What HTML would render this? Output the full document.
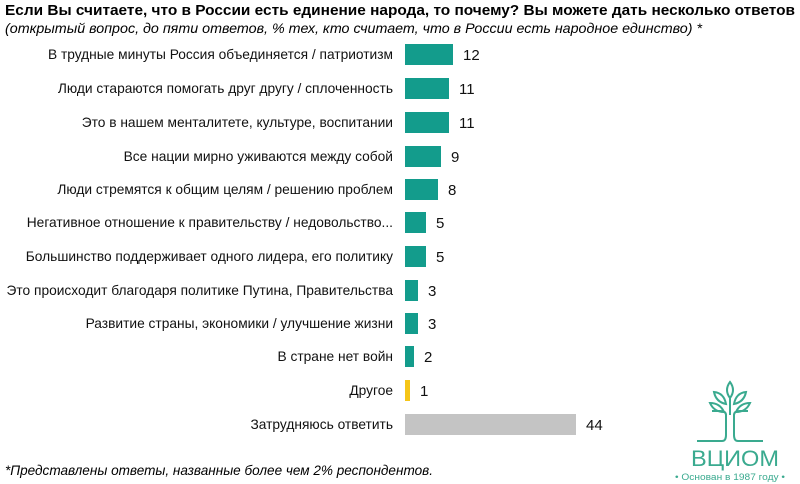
<!DOCTYPE html>
<html><head><meta charset="utf-8"><style>body{margin:0;background:#fff}svg{display:block}</style></head><body>
<svg width="800" height="484" xmlns="http://www.w3.org/2000/svg" font-family="Liberation Sans, sans-serif">
<text x="5" y="15" font-size="15" font-weight="bold" textLength="790" lengthAdjust="spacingAndGlyphs">Если Вы считаете, что в России есть единение народа, то почему? Вы можете дать несколько ответов</text>
<text x="5" y="33" font-size="14" font-style="italic" textLength="697" lengthAdjust="spacingAndGlyphs">(открытый вопрос, до пяти ответов, % тех, кто считает, что в России есть народное единство) *</text>
<g font-size="13.75" text-anchor="end" fill="#111">
<text x="393" y="59">В трудные минуты Россия объединяется / патриотизм</text>
<text x="393" y="93">Люди стараются помогать друг другу / сплоченность</text>
<text x="393" y="127">Это в нашем менталитете, культуре, воспитании</text>
<text x="393" y="161">Все нации мирно уживаются между собой</text>
<text x="393" y="194">Люди стремятся к общим целям / решению проблем</text>
<text x="393" y="227">Негативное отношение к правительству / недовольство...</text>
<text x="393" y="261">Большинство поддерживает одного лидера, его политику</text>
<text x="393" y="295">Это происходит благодаря политике Путина, Правительства</text>
<text x="393" y="328">Развитие страны, экономики / улучшение жизни</text>
<text x="393" y="361">В стране нет войн</text>
<text x="393" y="395">Другое</text>
<text x="393" y="429">Затрудняюсь ответить</text>
</g>
<g fill="#139c8c">
<rect x="405" y="44" width="48" height="21"/>
<rect x="405" y="78" width="44" height="21"/>
<rect x="405" y="112" width="44" height="21"/>
<rect x="405" y="146" width="36" height="21"/>
<rect x="405" y="179" width="33" height="21"/>
<rect x="405" y="212" width="21" height="21"/>
<rect x="405" y="246" width="21" height="21"/>
<rect x="405" y="280" width="13" height="21"/>
<rect x="405" y="313" width="13" height="21"/>
<rect x="405" y="346" width="9" height="21"/>
</g>
<rect x="405" y="380" width="5" height="21" fill="#f5c518"/>
<rect x="405" y="414" width="171" height="21" fill="#c4c4c4"/>
<g font-size="15" fill="#111">
<text x="463" y="60">12</text>
<text x="459" y="94">11</text>
<text x="459" y="128">11</text>
<text x="451" y="162">9</text>
<text x="448" y="195">8</text>
<text x="436" y="228">5</text>
<text x="436" y="262">5</text>
<text x="428" y="296">3</text>
<text x="428" y="329">3</text>
<text x="424" y="362">2</text>
<text x="420" y="396">1</text>
<text x="586" y="430">44</text>
</g>
<text x="5" y="475" font-size="14" font-style="italic" textLength="428" lengthAdjust="spacingAndGlyphs">*Представлены ответы, названные более чем 2% респондентов.</text>
<g stroke="#3aaa8f" stroke-width="2" fill="none">
<path d="M697 441 H722 Q726 441 726 435 V415 Q726 411 720 411 H712"/>
<path d="M763 441 H738 Q734 441 734 435 V415 Q734 411 740 411 H748"/>
<path d="M730 415 V398"/>
<path d="M730 398 q-6 -8 0 -16 q6 8 0 16z"/>
<path d="M726 404 q-10 -2 -12 -12 q10 1 12 12z"/>
<path d="M734 404 q10 -2 12 -12 q-10 1 -12 12z"/>
<path d="M724 412 q-10 0 -14 -9 q10 0 14 9z"/>
<path d="M736 412 q10 0 14 -9 q-10 0 -14 9z"/>
</g>
<text x="735" y="466" font-size="22" fill="#3aaa8f" text-anchor="middle" textLength="88" lengthAdjust="spacingAndGlyphs">ВЦИОМ</text>
<text x="730" y="480" font-size="9" fill="#3aaa8f" text-anchor="middle" textLength="110" lengthAdjust="spacingAndGlyphs">• Основан в 1987 году •</text>
</svg>
</body></html>
